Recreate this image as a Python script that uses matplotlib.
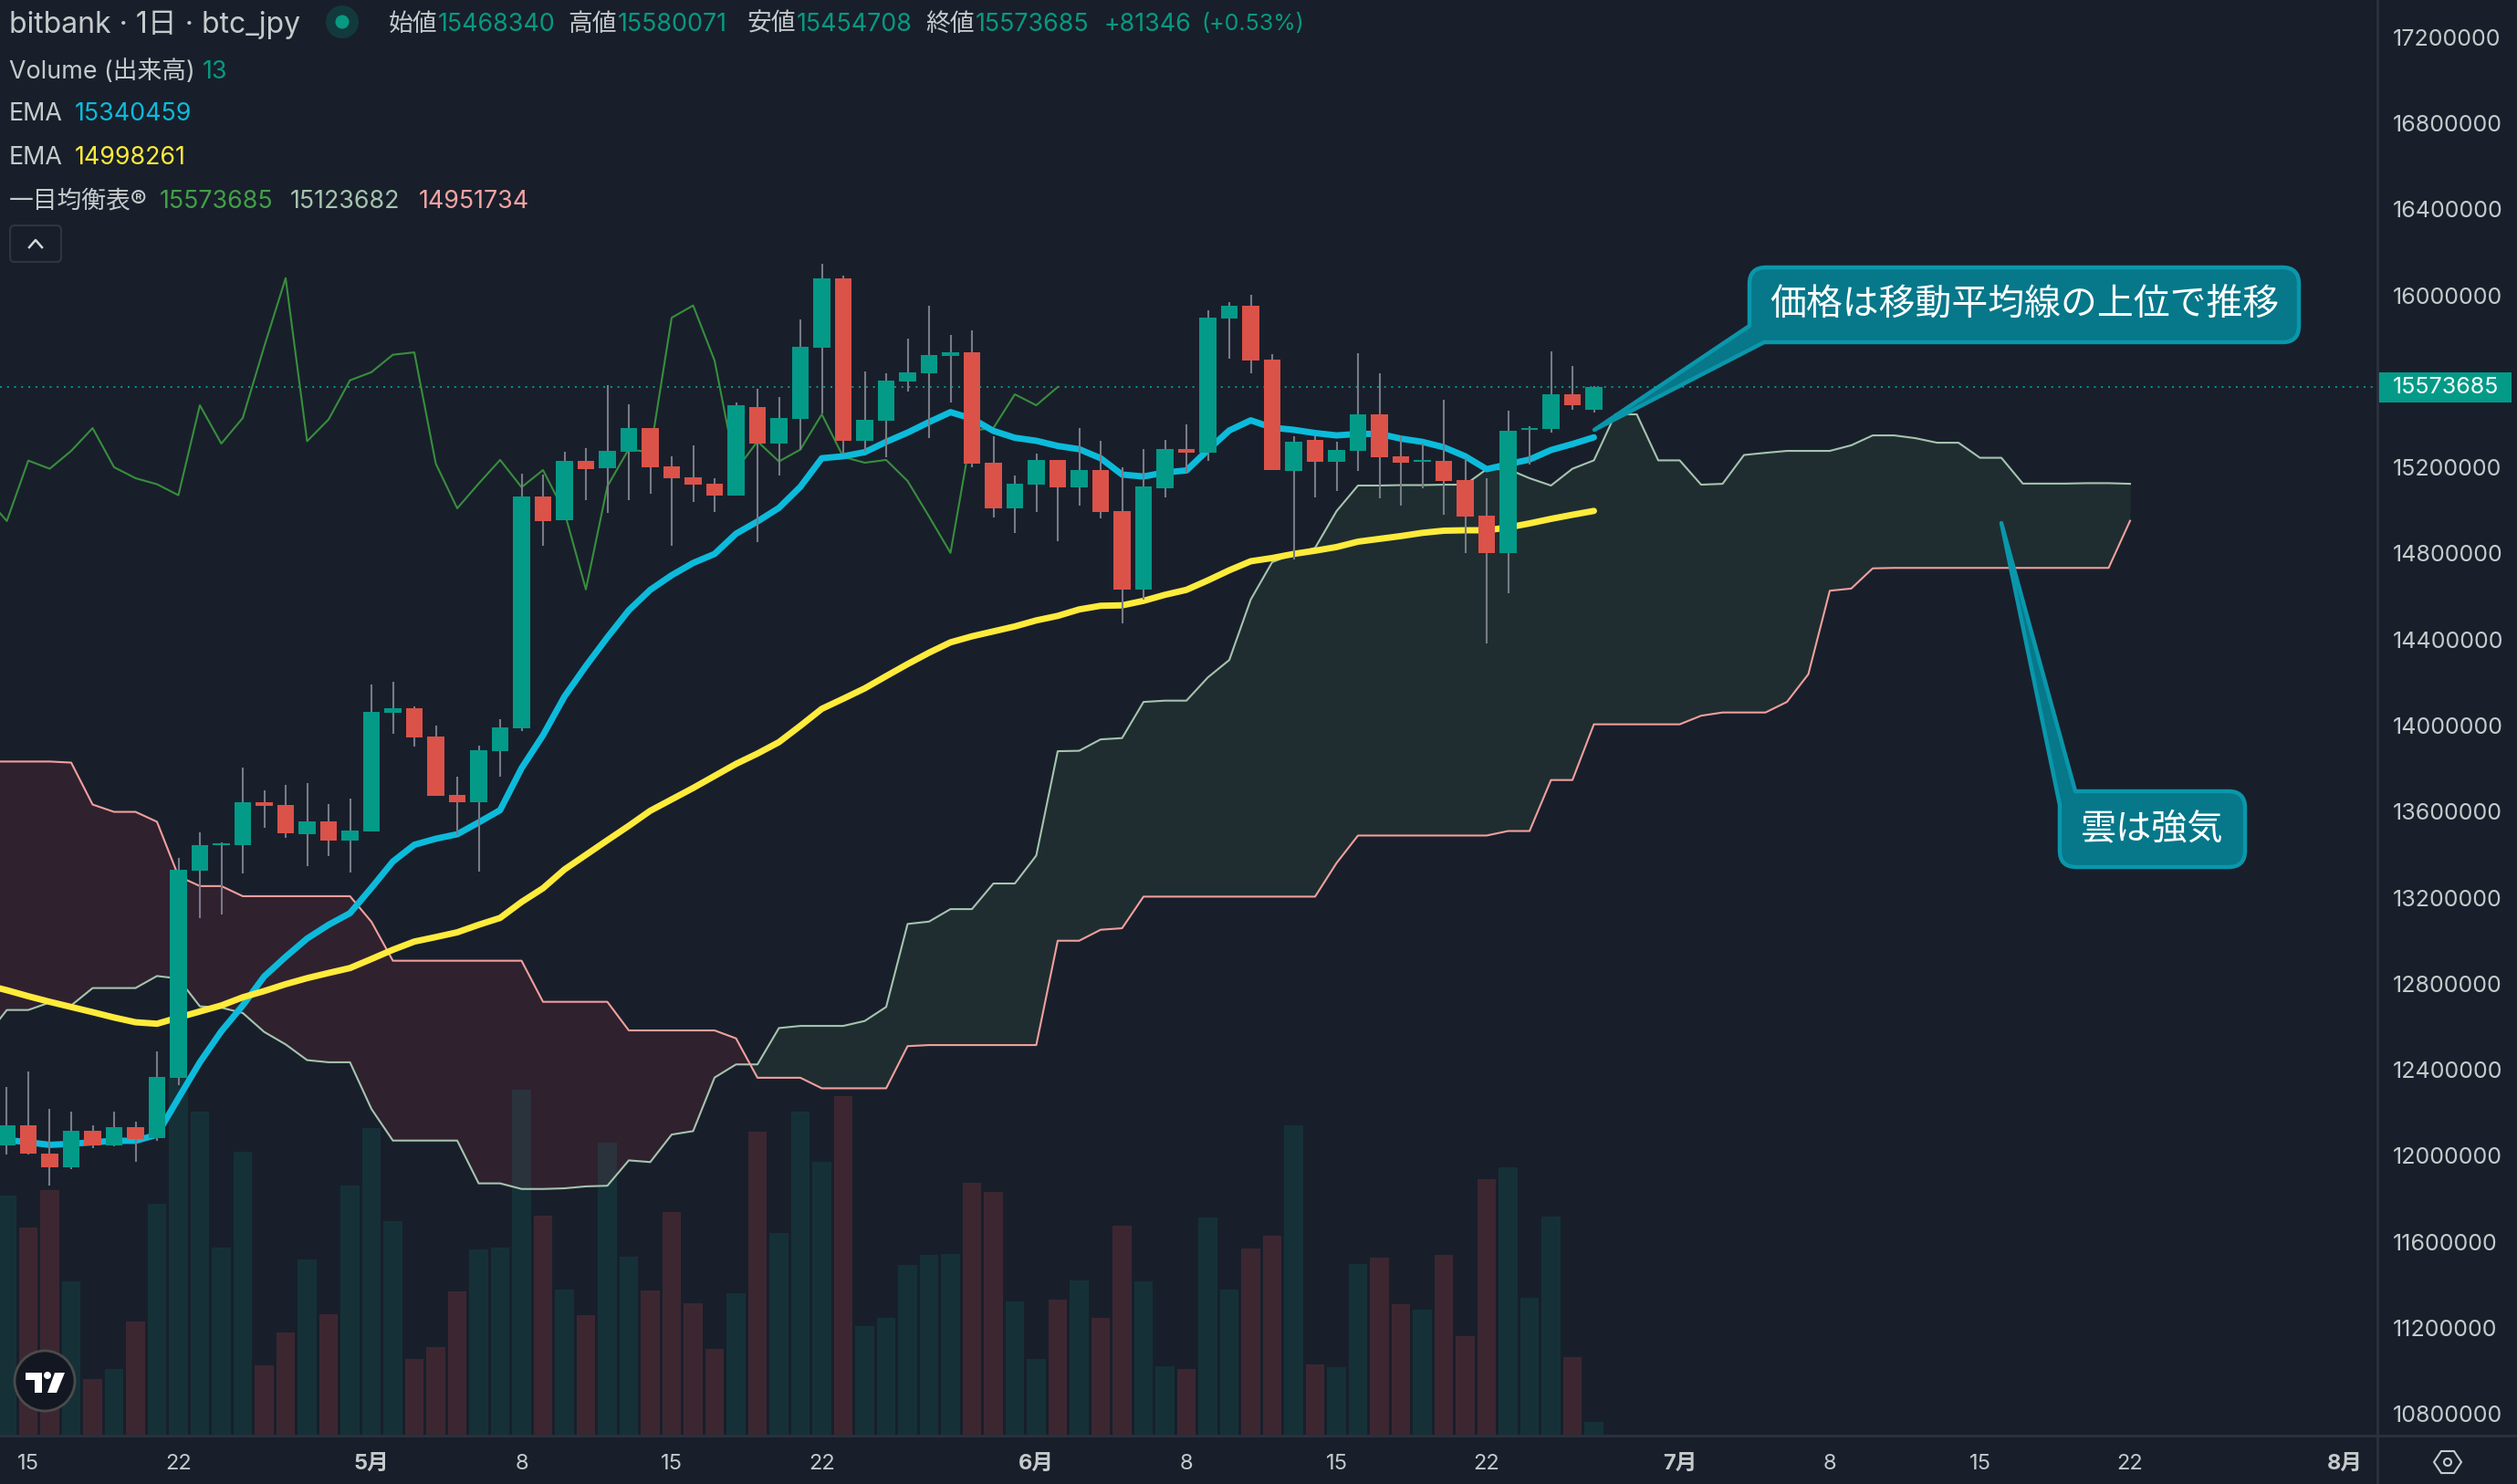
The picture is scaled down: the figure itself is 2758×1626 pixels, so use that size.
import matplotlib
matplotlib.use("Agg")
import matplotlib.pyplot as plt
import numpy as np
from matplotlib.path import Path
from matplotlib.patches import PathPatch, FancyBboxPatch, Circle, Polygon, Rectangle
from matplotlib.transforms import Affine2D, blended_transform_factory

# ---------- data (thousand JPY, first candle index -1, 0 = 15 Apr) ----------
opens = [12049,12142,12010,11947,12116,12049,12133,12083,12364,13326,13444,13444,13644,13631,13495,13555,13466,
         13508,14059,14082,13949,13679,13644,13881,13987,15065,14955,15232,15197,15273,15383,15205,15154,15125,
         15071,15482,15311,15427,15758,16080,15322,15417,15601,15639,15718,15735,15222,15010,15122,15235,15108,
         15188,14999,14633,15105,15286,15269,15893,15953,15701,15184,15328,15228,15277,15447,15252,15228,15232,
         15143,14976,14803,15375,15379,15540,15468]
highs = [12320,12392,12218,12204,12140,12204,12159,12486,13385,13502,13456,13804,13699,13724,13733,13635,13661,
         14192,14205,14090,14000,13764,13908,14031,15171,15165,15273,15290,15584,15495,15383,15252,15304,15150,
         15502,15567,15529,15889,16148,16093,15646,15639,15800,15953,15817,15838,15343,15163,15266,15235,15383,
         15324,15201,15286,15328,15400,15930,15970,16002,15728,15345,15345,15321,15732,15639,15351,15309,15516,
         15243,15148,15465,15391,15741,15673,15580]
lows = [12006,12006,11862,11940,12037,12044,11974,12070,12329,13106,13123,13314,13526,13478,13348,13394,13319,
        13508,13963,13904,13675,13491,13323,13764,13976,14836,14955,15048,14987,15046,15078,14836,15040,14993,
        15071,14853,15161,15281,15451,15260,15271,15249,15555,15338,15502,15201,14968,14896,14993,14858,15023,
        14964,14474,14584,15059,15177,15232,15707,15639,15188,14771,15061,15091,15184,15057,15023,15105,14982,
        14803,14383,14616,15213,15364,15468,15455]
closes = [12142,12012,11947,12116,12049,12133,12080,12367,13330,13444,13453,13644,13627,13500,13555,13466,13512,
          14065,14082,13945,13675,13644,13887,13993,15065,14951,15232,15194,15277,15383,15201,15150,15122,15071,
          15489,15311,15430,15762,16080,15322,15423,15605,15643,15724,15735,15218,15010,15125,15235,15108,15188,
          14993,14633,15112,15286,15269,15896,15953,15697,15188,15321,15228,15283,15447,15249,15222,15235,15137,
          14972,14803,15372,15383,15540,15489,15574]
volumes = [238,206,243,152,55,65,112,229,355,321,186,281,69,102,174,120,248,305,212,75,87,142,184,186,343,218,
           144,119,290,177,143,221,131,85,141,301,200,321,271,336,108,116,169,179,180,250,241,132,75,134,153,116,
           208,152,68,65,216,144,185,198,307,70,67,170,176,130,124,179,98,254,266,136,217,77,13]
# EMAs start at index -2
ema_fast = [12085,12074,12063,12051,12056,12063,12070,12070,12098,12268,12435,12579,12699,12834,12925,13010,13074,13128,
            13246,13368,13446,13474,13495,13550,13607,13802,13955,14135,14277,14410,14536,14631,14699,14756,14798,
            14892,14949,15012,15110,15243,15252,15271,15319,15362,15411,15457,15427,15370,15338,15324,15300,15285,
            15243,15167,15158,15177,15186,15281,15372,15419,15385,15375,15360,15349,15356,15356,15334,15319,15294,
            15252,15192,15215,15237,15281,15309,15340]
ema_slow = [12795,12770,12742,12716,12692,12668,12643,12621,12614,12643,12671,12699,12737,12766,12798,12826,12850,12873,
            12915,12958,12996,13017,13039,13074,13106,13180,13244,13331,13399,13467,13534,13604,13657,13710,13766,
            13822,13870,13923,13999,14078,14125,14173,14230,14286,14339,14387,14415,14438,14461,14489,14510,14540,
            14557,14559,14580,14608,14631,14675,14722,14764,14779,14798,14813,14830,14855,14868,14881,14896,14906,
            14908,14908,14921,14940,14961,14980,14998]
# Ichimoku: lagging span starts at index -2, leading spans at index -2 and run to index 98
chikou = [15065,14951,15232,15194,15277,15383,15201,15150,15122,15071,15489,15311,15430,15762,16080,15322,15423,
          15605,15643,15724,15735,15218,15010,15125,15235,15108,15188,14993,14633,15112,15286,15269,15896,15953,
          15697,15188,15321,15228,15283,15447,15249,15222,15235,15137,14972,14803,15372,15383,15540,15489,15574]
senkou_a = [12551,12678,12678,12713,12699,12780,12780,12780,12836,12824,12695,12689,12664,12576,12518,12445,12435,
            12435,12218,12071,12071,12071,12071,11872,11872,11846,11846,11849,11858,11861,11979,11971,12099,12115,
            12364,12425,12425,12594,12604,12604,12604,12627,12692,13078,13089,13147,13147,13266,13266,13396,13881,
            13883,13936,13942,14110,14116,14116,14224,14305,14586,14760,14798,14826,14997,15116,15116,15118,15118,
            15120,15120,15192,15192,15150,15116,15194,15233,15447,15447,15233,15233,15120,15124,15258,15268,15277,
            15277,15277,15303,15349,15349,15336,15315,15315,15245,15245,15125,15125,15125,15127,15127,15124]
senkou_b = [13833,13833,13833,13833,13828,13633,13599,13599,13553,13300,13254,13254,13207,13207,13207,13207,13207,
            13207,13088,12907,12907,12907,12907,12907,12907,12907,12716,12716,12716,12716,12583,12583,12583,12583,
            12583,12546,12363,12363,12363,12314,12314,12314,12314,12510,12515,12515,12515,12515,12515,12515,13000,
            13000,13051,13058,13205,13205,13205,13205,13205,13205,13205,13205,13205,13361,13489,13489,13489,13489,
            13489,13489,13489,13510,13510,13747,13747,14006,14006,14006,14006,14006,14046,14061,14061,14061,14110,
            14239,14627,14637,14731,14733,14733,14733,14733,14733,14733,14733,14733,14733,14733,14733,14952]
price_ticks = [10800,11200,11600,12000,12400,12800,13200,13600,14000,14400,14800,15200,16000,16400,16800,17200]
time_ticks = [0,7,16,23,30,37,47,54,61,68,77,84,91,98,108]
time_labels = ['15','22','5月','8','15','22','6月','8','15','22','7月','8','15','22','8月']
last_price = 15573.685

# ---------- styling ----------
W, H = 2758, 1626
BG = '#181f2b'
UP, DOWN = '#049a88', '#db5249'
FONT = ['Inter', 'Noto Sans CJK JP', 'DejaVu Sans']
CJK = ['Noto Sans CJK JP', 'DejaVu Sans']
TXT = '#c6cacb'
plt.rcParams['font.family'] = FONT

fig = plt.figure(figsize=(W/100, H/100), dpi=100, facecolor=BG)
PANE_R, PANE_B = 2605, 1572
rect = [0, (H-PANE_B)/H, PANE_R/W, PANE_B/H]
xlim = ((0-31)/23.5, (PANE_R-31)/23.5)
ylim = (17373-4.2426*PANE_B, 17373)

ax_bg = fig.add_axes(rect, facecolor=BG, zorder=1)
ax_vol = fig.add_axes(rect, facecolor='none', zorder=2)
ax = fig.add_axes(rect, facecolor='none', zorder=3)
for a in (ax_bg, ax_vol, ax):
    a.set_xlim(xlim)
    for s in a.spines.values():
        s.set_visible(False)
ax_bg.set_ylim(ylim); ax.set_ylim(ylim)
ax_bg.set_xticks([]); ax_bg.set_yticks([])
ax_vol.set_xticks([]); ax_vol.set_yticks([])
ax_vol.set_ylim(0, PANE_B/1.1027)

xc = np.arange(-1, len(opens)-1)
xe = np.arange(-2, len(ema_fast)-2)
o, h, l, c = map(np.array, (opens, highs, lows, closes))
up = c >= o

# cloud
xs = np.arange(-2, len(senkou_a)-2)
a_, b_ = np.array(senkou_a), np.array(senkou_b)
ax_bg.fill_between(xs, a_, b_, where=a_ >= b_, interpolate=True, color='#1f2d31', lw=0)
ax_bg.fill_between(xs, a_, b_, where=a_ <= b_, interpolate=True, color='#30212f', lw=0)

# volume
ax_vol.bar(xc[up], np.array(volumes)[up], width=0.88, color='#089981', alpha=0.15, lw=0)
ax_vol.bar(xc[~up], np.array(volumes)[~up], width=0.88, color='#ef5350', alpha=0.17, lw=0)

# last price line
ax.axhline(last_price, color=UP, lw=1.4, ls=(0, (1, 3)), zorder=1)

# ichimoku + EMA
ax.plot(np.arange(-2, len(chikou)-2), chikou, color='#388e3c', lw=1.5, zorder=2)
ax.plot(xs, senkou_a, color='#a5c4ad', lw=1.5, zorder=2)
ax.plot(xs, senkou_b, color='#f29f9c', lw=1.5, zorder=2)
ax.plot(xe, ema_fast, color='#0cbbdb', lw=5, zorder=3, solid_capstyle='round', solid_joinstyle='round')
ax.plot(xe, ema_slow, color='#ffeb3b', lw=5, zorder=3, solid_capstyle='round', solid_joinstyle='round')

# candles
ax.vlines(xc, l, h, color='#787b86', lw=1.5, zorder=4)
ax.bar(xc[up], (c-o)[up], bottom=o[up], width=0.78, color=UP, lw=0, zorder=5)
ax.bar(xc[~up], (c-o)[~up], bottom=o[~up], width=0.78, color=DOWN, lw=0, zorder=5)

# axes labels
ax.yaxis.tick_right()
ax.set_yticks(price_ticks)
ax.set_yticklabels([f'{v*1000:d}' for v in price_ticks], fontsize=18, color=TXT)
ax.tick_params(axis='y', length=0, pad=12)
ax.set_xticks(time_ticks)
ax.set_xticklabels(time_labels, fontsize=17, color=TXT)
ax.tick_params(axis='x', length=0, pad=15)
for t, s in zip(ax.get_xticklabels(), time_labels):
    if '月' in s:
        t.set_fontweight('bold')

# pixel overlay: x right, y down, in figure pixels
PX = Affine2D().scale(1, -1).translate(0, H)
def add(p, z=20):
    p.set_transform(PX)
    p.set_zorder(z)
    fig.add_artist(p)
    return p
def line(x0, y0, x1, y1, col='#2a303c', lw=2.0):
    fig.add_artist(plt.Line2D([x0, x1], [y0, y1], transform=PX, color=col, lw=lw, zorder=20))
line(PANE_R, 0, PANE_R, H)
line(0, PANE_B+1, W, PANE_B+1, lw=2.2)

def T(x, y, s, color=TXT, size=19.3, family=None, ha='left', **kw):
    fig.text(x/W, 1-y/H, s, color=color, fontsize=size, ha=ha, va='center',
             family=family or FONT, zorder=21, **kw)

# header
TEAL = '#089981'
T(10, 27, 'bitbank · 1日 · btc_jpy', size=23, color=TXT)
add(Circle((375, 24), 18, fc='#123a3d', lw=0))
add(Circle((375, 24), 7.5, fc=TEAL, lw=0))
for x, s, col in [(426, '始値', TXT), (480, '15468340', TEAL), (622, '高値', TXT), (677, '15580071', TEAL),
                  (818, '安値', TXT), (873, '15454708', TEAL), (1014, '終値', TXT), (1069, '15573685', TEAL),
                  (1210, '+81346', TEAL)]:
    T(x, 27, s, col)
T(1316, 27, '(+0.53%)', TEAL, size=18)
T(10, 79, 'Volume (出来高)'); T(222, 79, '13', TEAL)
T(10, 125, 'EMA'); T(82, 125, '15340459', '#0cbbdb')
T(10, 173, 'EMA'); T(82, 173, '14998261', '#ffeb3b')
T(10, 221, '一目均衡表®'); T(175, 221, '15573685', '#43a047'); T(318, 221, '15123682', '#a5c4ad'); T(459, 221, '14951734', '#f5a3a3')
add(FancyBboxPatch((11, 247), 56, 40, boxstyle='round,pad=0,rounding_size=5', fc=BG, ec='#2f3541', lw=1.5))
fig.add_artist(plt.Line2D([32, 39, 46], [271, 263, 271], transform=PX, color='#d5d7d9', lw=1.8, zorder=21))

# last price tag
trans = blended_transform_factory(fig.transFigure, ax.transData)
tag = FancyBboxPatch((PANE_R/W, last_price-70), 147/W, 140, boxstyle='square,pad=0', transform=trans,
                     fc=UP, lw=0, clip_on=False, zorder=6)
ax.add_patch(tag)
ax.text(2622/W, last_price, f'{last_price*1000:.0f}', transform=trans, color='white', fontsize=18,
        va='center', ha='left', clip_on=False, zorder=7)

# callouts
def callout(x0, y0, x1, y1, r, tail, side):
    MO, LI, C3, CL = Path.MOVETO, Path.LINETO, Path.CURVE3, Path.CLOSEPOLY
    v = [(x0+r, y0)]; k = [MO]
    def pts(seq, code):
        v.extend(seq); k.extend([code]*len(seq))
    if side == 'top':
        pts([(x1-r, y0)], LI); pts([(x1, y0), (x1, y0+r)], C3)
        pts([(x1, y1-r)], LI); pts([(x1, y1), (x1-r, y1)], C3)
        pts([(x0+r, y1)], LI); pts([(x0, y1), (x0, y1-r)], C3)
        pts(tail, LI)
        v[0] = tail[-1]
        pts([tail[-1]], LI)
    else:
        pts([(x1-r, y0)], LI); pts([(x1, y0), (x1, y0+r)], C3)
        pts([(x1, y1-r)], LI); pts([(x1, y1), (x1-r, y1)], C3)
        pts(tail, LI)
        pts([(x0, y0+r)], LI); pts([(x0, y0), (x0+r, y0)], C3)
    v.append(v[0]); k.append(CL)
    add(PathPatch(Path(v, k), fc='#06788a', ec='#0a97ab', lw=3.2, joinstyle='round'))

callout(1917, 293, 2519, 375, 18, [(1933, 375), (1747, 471), (1917, 357)], 'bottom')
callout(2257, 867, 2460, 950, 18, [(2257, 882), (2193, 573), (2274, 867)], 'top')
fig.text(2218/W, 1-335/H, '価格は移動平均線の上位で推移', color='white', fontsize=28.7, ha='center', va='center', family=CJK, zorder=22)
fig.text(2358.5/W, 1-908/H, '雲は強気', color='white', fontsize=28.2, ha='center', va='center', family=CJK, zorder=22)

# logo
add(Circle((49, 1513), 33, fc='#131722', ec='#4b4b4b', lw=2))
add(Polygon([(28, 1504), (46, 1504), (46, 1526), (38, 1526), (38, 1512), (28, 1512)], fc='white', lw=0), 21)
add(Circle((52, 1507), 4, fc='white', lw=0), 21)
add(Polygon([(60, 1504), (71, 1504), (62, 1526), (52, 1526)], fc='white', lw=0), 21)

# settings icon
add(Polygon([(2675, 1590), (2689, 1590), (2697, 1602), (2689, 1614), (2675, 1614), (2667, 1602)], fc='none', ec=TXT, lw=1.5))
add(Circle((2682, 1602), 4, fc='none', ec=TXT, lw=1.5))

fig.savefig('out.png', dpi=100, facecolor=BG)
